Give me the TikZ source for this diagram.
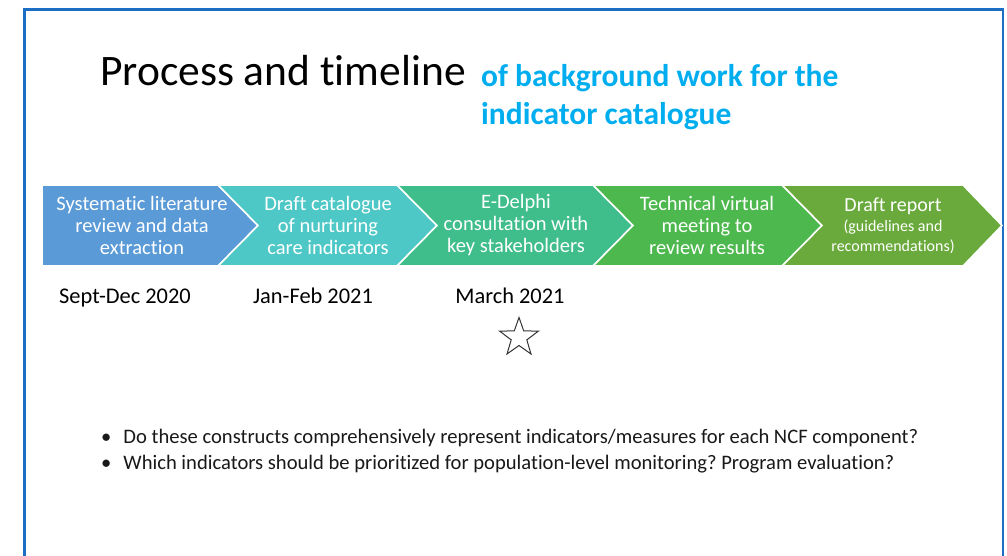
\documentclass[tikz,border=0pt]{standalone}
\usepackage{fontspec}
\setmainfont{Carlito}[Ligatures=NoCommon]
\frenchspacing
\begin{document}
\begin{tikzpicture}[x=1pt,y=-1pt,
  chev/.style={draw=white,line width=1.6pt,line join=miter},
  steptext/.style={text=white,align=center,font=\fontsize{20.5}{22}\selectfont,inner sep=0pt},
  datetext/.style={text=black,font=\fontsize{22.4}{24}\selectfont,inner sep=0pt},
  bullettext/.style={text=black!90,anchor=west,font=\fontsize{20.6}{22}\selectfont,inner sep=0pt}]
\definecolor{frameblue}{HTML}{1C6EC4}
\definecolor{cA}{HTML}{5A9AD6}
\definecolor{cB}{HTML}{4DC8C6}
\definecolor{cC}{HTML}{3FBE8C}
\definecolor{cD}{HTML}{4DB84D}
\definecolor{cE}{HTML}{6AAA3C}
\definecolor{subtitleblue}{HTML}{00AEEF}
% page and frame
\fill[white] (0,0) rectangle (1007,556);
\useasboundingbox (0,0) rectangle (1007,556);
\draw[frameblue,line width=2.2pt] (24.5,570) -- (24.5,9.5) -- (1002.8,9.5) -- (1002.8,570);
% title
\node[anchor=base west,inner sep=0pt,font=\fontsize{43.5}{46}\selectfont] (title) at (100,86) {Process and timeline};
\node[anchor=base west,inner sep=0pt,align=left,text=subtitleblue,font=\bfseries\fontsize{31.5}{38}\selectfont] (subtitle) at (481,124.5) {of background work for the\\indicator catalogue};
% process chevrons
\fill[cA,chev] (42,185) -- (218,185) -- (258,225.5) -- (218,266) -- (42,266) -- cycle;
\fill[cB,chev] (218,185) -- (397,185) -- (437,225.5) -- (397,266) -- (218,266) -- (258,225.5) -- cycle;
\fill[cC,chev] (397,185) -- (593,185) -- (633,225.5) -- (593,266) -- (397,266) -- (437,225.5) -- cycle;
\fill[cD,chev] (593,185) -- (782,185) -- (822,225.5) -- (782,266) -- (593,266) -- (633,225.5) -- cycle;
\fill[cE,chev] (782,185) -- (963,185) -- (1002,225.5) -- (963,266) -- (782,266) -- (822,225.5) -- cycle;
\node[steptext] (s1) at (142,225) {Systematic literature\\review and data\\extraction};
\node[steptext] (s2) at (328,225) {Draft catalogue\\of nurturing\\care indicators};
\node[steptext] (s3) at (516,225) {E-Delphi\\consultation with\\key stakeholders};
\node[steptext] (s4) at (707,225) {Technical virtual\\meeting to\\review results};
\node[steptext,font=\fontsize{20}{20}\selectfont] (s5) at (893,226) {Draft report\\{\fontsize{16}{18}\selectfont (guidelines and}\\{\fontsize{16}{18}\selectfont recommendations)}};
% dates
\node[datetext] (d1) at (125,298) {Sept-Dec 2020};
\node[datetext] (d2) at (313,296) {Jan-Feb 2021};
\node[datetext] (d3) at (510,296) {March 2021};
% milestone star
\draw[black!80,line width=1pt,line join=miter]
  (519,317.4) -- (523.7,330.9) -- (538.4,331.1) -- (526.8,339.9)
  -- (531.0,354.0) -- (519,345.5) -- (507.0,354.0) -- (511.2,339.9)
  -- (499.6,331.1) -- (514.3,330.9) -- cycle;
% questions
\node[bullettext] (q1) at (101,438) {\textbullet\hspace{12pt}Do these constructs comprehensively represent indicators/measures for each NCF component?};
\node[bullettext] (q2) at (101,464) {\textbullet\hspace{12pt}Which indicators should be prioritized for population-level monitoring? Program evaluation?};
\end{tikzpicture}
\end{document}
